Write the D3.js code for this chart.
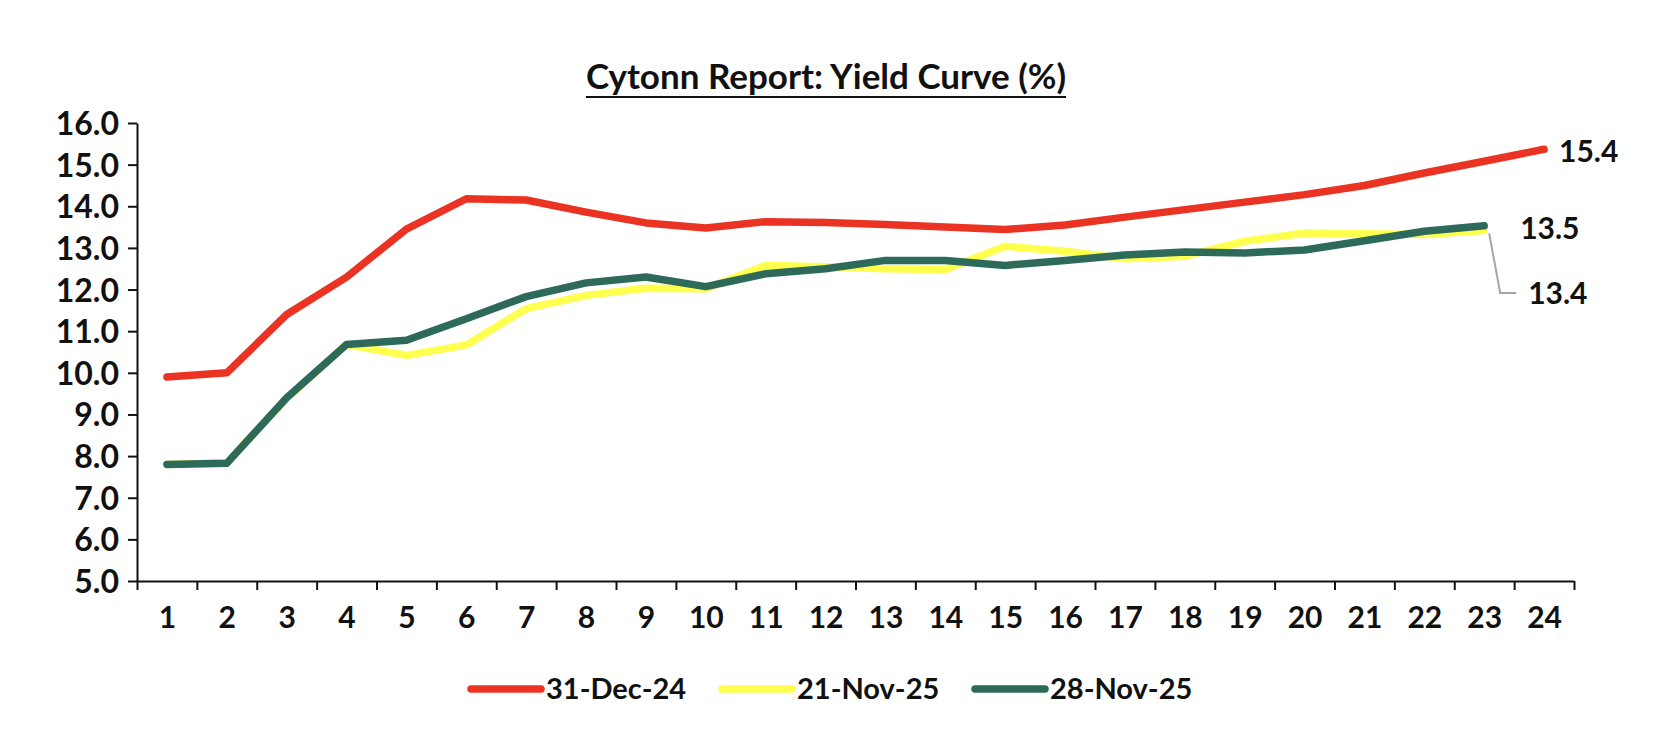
<!DOCTYPE html>
<html><head><meta charset="utf-8">
<script src="https://cdn.jsdelivr.net/npm/d3@7"></script>
<style>
body{margin:0;background:#fff;}
text{font-family:Lato,"Open Sans",sans-serif;font-weight:700;fill:#111;}
</style></head>
<body><svg id="c" width="1666" height="748"></svg>
<script>
const categories = d3.range(1,25);
const yTicks = [5,6,7,8,9,10,11,12,13,14,15,16];
const seriesNames = ["31-Dec-24","21-Nov-25","28-Nov-25"];
const dec24 = [9.9,10.0,11.4,12.3,13.45,14.18,14.15,13.86,13.6,13.48,13.63,13.61,13.56,13.5,13.44,13.55,13.74,13.92,14.1,14.28,14.5,14.8,15.08,15.37];
const nov21 = [7.8,7.84,9.39,10.68,10.42,10.67,11.54,11.86,12.03,12.02,12.58,12.55,12.5,12.48,13.04,12.92,12.74,12.8,13.16,13.36,13.34,13.32,13.42];
const nov28 = [7.8,7.83,9.4,10.68,10.78,11.3,11.83,12.16,12.3,12.07,12.38,12.5,12.7,12.7,12.58,12.7,12.83,12.9,12.88,12.95,13.17,13.4,13.53];
const colors = ["#EA3323","#FFFF4F","#2E6A5A"];
const endLabels = ["15.4","13.4","13.5"];

const svg = d3.select("#c");
const L = 137, R = 1574, T = 123, B = 581;
const x = d3.scaleLinear().domain([0.5,24.5]).range([L,R]);
const y = d3.scaleLinear().domain([5,16]).range([B,T]);

// title
const title = svg.append("text").attr("x",826).attr("y",89).attr("text-anchor","middle")
  .style("font-size","35px").text("Cytonn Report: Yield Curve (%)");
const bb = title.node().getBBox();
svg.append("line").attr("x1",bb.x).attr("x2",bb.x+bb.width).attr("y1",97).attr("y2",97)
  .attr("stroke","#111").attr("stroke-width",2.2);

// y axis
const ya = svg.append("g").attr("transform",`translate(${L},0)`)
  .call(d3.axisLeft(y).tickValues(yTicks).tickFormat(d3.format(".1f")).tickSize(9).tickSizeOuter(0).tickPadding(9));
ya.selectAll("text").style("font-size","32px").attr("dy","0.36em");
// x axis boundary ticks
svg.append("g").attr("transform",`translate(0,${B})`)
  .call(d3.axisBottom(x).tickValues(d3.range(0.5,25,1)).tickFormat("").tickSize(9).tickSizeOuter(0));
// x labels
const xl = svg.append("g").attr("transform",`translate(0,${B})`)
  .call(d3.axisBottom(x).tickValues(categories).tickFormat(d3.format("d")).tickSize(0).tickPadding(26));
xl.select(".domain").remove();
xl.selectAll("text").style("font-size","30px");
svg.selectAll(".domain, .tick line").attr("stroke","#111").attr("stroke-width",2);

const line = d3.line().x((d,i)=>x(i+1)).y(d=>y(d));
[dec24,nov21,nov28].forEach((s,k)=>{
  svg.append("path").datum(s).attr("d",line).attr("fill","none")
    .attr("stroke",colors[k]).attr("stroke-width",7.5)
    .attr("stroke-linejoin","round").attr("stroke-linecap","round");
});

// end labels
svg.append("text").attr("x",x(24)+15).attr("y",y(dec24[23])+2).attr("dy","0.36em").style("font-size","30px").text(endLabels[0]);
svg.append("text").attr("x",x(23)+36).attr("y",y(nov28[22])+2).attr("dy","0.36em").style("font-size","30px").text(endLabels[2]);
// leader for 21-Nov label
const lx = x(23), ly = y(nov21[22]);
svg.append("path").attr("d",`M${lx+5},${ly+3} L${lx+16},${y(11.92)} L${lx+32},${y(11.92)}`)
  .attr("fill","none").attr("stroke","#A6A6A6").attr("stroke-width",2);
svg.append("text").attr("x",lx+44).attr("y",y(11.92)).attr("dy","0.36em").style("font-size","30px").text(endLabels[1]);

// legend
const lg = svg.append("g");
const lgX = [471,722,975];
seriesNames.forEach((n,k)=>{
  lg.append("line").attr("x1",lgX[k]).attr("x2",lgX[k]+70).attr("y1",689).attr("y2",689)
    .attr("stroke",colors[k]).attr("stroke-width",7.5).attr("stroke-linecap","round");
  lg.append("text").attr("x",lgX[k]+75).attr("y",689).attr("dy","0.36em").style("font-size","29px").text(n);
});
</script></body></html>
